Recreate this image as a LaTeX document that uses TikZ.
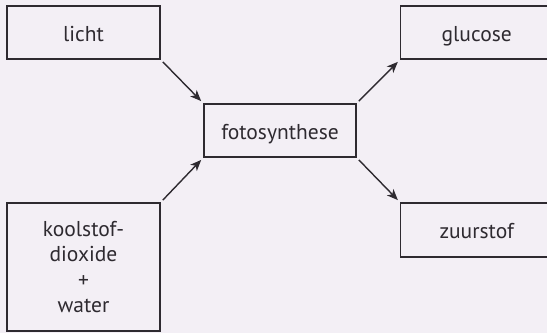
\documentclass[tikz,border=0pt]{standalone}
\usepackage{fontspec}
\setmainfont{PT Sans}
\usetikzlibrary{arrows.meta}
\definecolor{bg}{HTML}{F3EFF5}
\definecolor{ink}{HTML}{2E2A30}
\tikzset{
  box/.style={draw=ink, line width=1.5pt, fill=bg, inner sep=0pt, align=center,
    text=ink, font=\fontsize{21.5}{25.5}\selectfont},
  one/.style={text height=22pt, text depth=5pt},
  arr/.style={draw=ink, line width=1.4pt, -{Stealth[length=11pt,width=9pt,inset=3pt]},
    shorten <=3pt, shorten >=3pt}
}
\begin{document}
\begin{tikzpicture}[x=1pt,y=-1pt]
\useasboundingbox (0,0) rectangle (547,333);
\fill[bg] (0,0) rectangle (547,333);
\clip (0,0) rectangle (547,333);
\node[box, one, minimum width=153pt, minimum height=53pt] (licht) at (83.5,32.5) {licht};
\node[box, one, minimum width=152pt, minimum height=53pt] (foto) at (280,130.5) {fotosynthese};
\node[box, one, minimum width=152pt, minimum height=53pt] (glucose) at (476.7,32.5) {glucose};
\node[box, one, minimum width=152pt, minimum height=54pt] (zuur) at (476.7,230) {zuurstof};
\node[box, minimum width=153pt, minimum height=128pt] (kool) at (83.5,267) {koolstof-\\dioxide\\+\\water};
\draw[arr] (licht.south east) -- (foto.north west);
\draw[arr] (kool.north east) -- (foto.south west);
\draw[arr] (foto.north east) -- (glucose.south west);
\draw[arr] (foto.south east) -- (zuur.north west);
\end{tikzpicture}
\end{document}
